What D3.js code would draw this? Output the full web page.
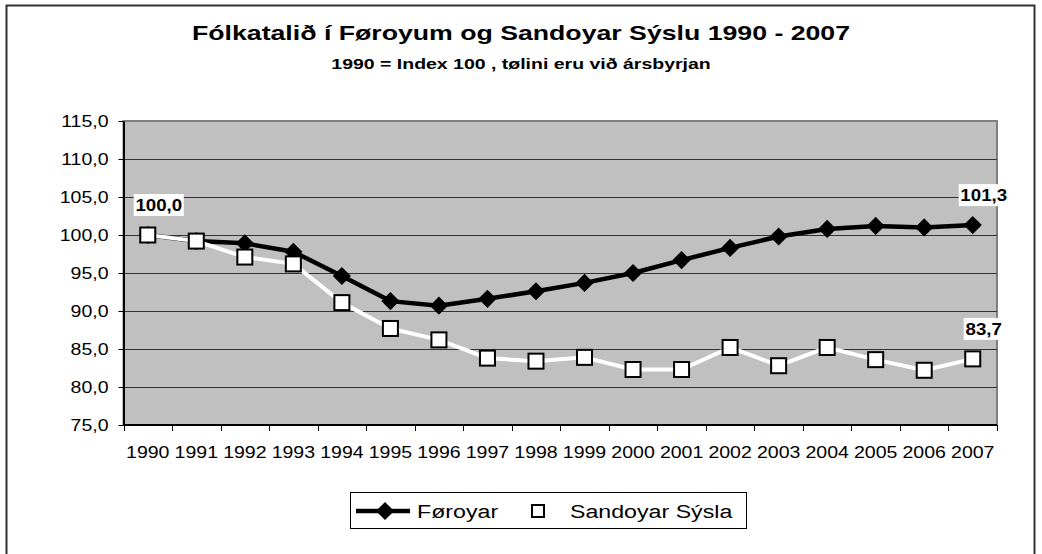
<!DOCTYPE html>
<html>
<head>
<meta charset="utf-8">
<script src="https://cdn.jsdelivr.net/npm/d3@7"></script>
<style>
  body { margin: 0; background: #fff; }
  svg { display: block; font-family: "Liberation Sans", Arial, sans-serif; }
</style>
</head>
<body>
<div class="chart"></div>
<script>
// data
var years = ["1990", "1991", "1992", "1993", "1994", "1995", "1996", "1997", "1998",
    "1999", "2000", "2001", "2002", "2003", "2004", "2005", "2006", "2007"];
var foroyar = [100.0, 99.2, 98.9, 97.8, 94.6, 91.3, 90.7, 91.6, 92.6,
    93.7, 95.0, 96.7, 98.3, 99.8, 100.8, 101.2, 101.0, 101.3];
var sandoy = [100.0, 99.2, 97.1, 96.2, 91.1, 87.7, 86.2, 83.8, 83.4,
    83.9, 82.3, 82.3, 85.2, 82.8, 85.2, 83.6, 82.2, 83.7];
var yTicks = [75, 80, 85, 90, 95, 100, 105, 110, 115];
var seriesNames = ["Føroyar", "Sandoyar Sýsla"];
var labelled = [{ series: 0, index: 0 }, { series: 0, index: 17 }, { series: 1, index: 17 }];

var width = 1042,
    height = 554,
    plot = { left: 123.5, top: 121, right: 997, bottom: 425 },
    sx = 1.22; // horizontal stretch of the lettering

function fmt(v) {
    return v.toFixed(1).replace(".", ",");
}

var svg = d3.select(".chart")
    .append("svg")
    .attr("width", width)
    .attr("height", height);

// outer frame
svg.append("rect")
    .attr("x", 6.5).attr("y", 5.5)
    .attr("width", 1028).attr("height", 600)
    .attr("fill", "#fff")
    .attr("stroke", "#333")
    .attr("stroke-width", 2);

var x = d3.scaleBand()
    .domain(years)
    .range([plot.left, plot.right]);

var y = d3.scaleLinear()
    .domain([75, 115])
    .range([plot.bottom, plot.top]);

function stretchedText(sel, tx, ty, s) {
    return sel.append("text")
        .attr("transform", "translate(" + tx + "," + ty + ") scale(" + (s || sx) + ",1)");
}

// titles
stretchedText(svg, width / 2, 40, 1.27)
    .attr("text-anchor", "middle")
    .style("font-size", "21px")
    .style("font-weight", "bold")
    .text("Fólkatalið í Føroyum og Sandoyar Sýslu 1990 - 2007");

stretchedText(svg, width / 2, 69, 1.3)
    .attr("text-anchor", "middle")
    .style("font-size", "15px")
    .style("font-weight", "bold")
    .text("1990 = Index 100 , tølini eru við ársbyrjan");

// plot area
svg.append("rect")
    .attr("x", plot.left).attr("y", plot.top)
    .attr("width", plot.right - plot.left)
    .attr("height", plot.bottom - plot.top)
    .attr("fill", "#c0c0c0")
    .attr("stroke", "#808080")
    .attr("stroke-width", 2);

// grid
svg.append("g")
    .selectAll("line")
    .data(yTicks.slice(1, -1))
    .enter().append("line")
    .attr("x1", plot.left).attr("x2", plot.right)
    .attr("y1", function (d) { return Math.round(y(d)) + 0.5; })
    .attr("y2", function (d) { return Math.round(y(d)) + 0.5; })
    .attr("stroke", "#333")
    .attr("stroke-width", 1);

// y axis
var yAxis = svg.append("g")
    .attr("transform", "translate(" + plot.left + ",0)")
    .call(d3.axisLeft(y).tickValues(yTicks).tickSize(5).tickSizeOuter(0).tickFormat(fmt));
yAxis.select(".domain").attr("stroke", "#000").attr("stroke-width", 2);
yAxis.selectAll(".tick line").attr("stroke", "#000");
yAxis.selectAll(".tick text")
    .attr("x", null).attr("dy", null)
    .attr("transform", "translate(-15,5.5) scale(" + sx + ",1)")
    .style("font-size", "16px")
    .attr("fill", "#000");

// x axis: ticks between categories
var xAxisG = svg.append("g")
    .attr("transform", "translate(0," + plot.bottom + ")");
xAxisG.append("line")
    .attr("x1", plot.left).attr("x2", plot.right)
    .attr("stroke", "#000").attr("stroke-width", 2);
xAxisG.selectAll(".xt")
    .data(years.concat(["end"]))
    .enter().append("line")
    .attr("class", "xt")
    .attr("x1", function (d, i) { return Math.round(plot.left + i * x.bandwidth()) + 0.5; })
    .attr("x2", function (d, i) { return Math.round(plot.left + i * x.bandwidth()) + 0.5; })
    .attr("y1", 0).attr("y2", 6)
    .attr("stroke", "#000");
xAxisG.selectAll(".xl")
    .data(years)
    .enter().append("text")
    .attr("class", "xl")
    .attr("transform", function (d) {
        return "translate(" + (x(d) + x.bandwidth() / 2) + ",33) scale(" + sx + ",1)";
    })
    .attr("text-anchor", "middle")
    .style("font-size", "16px")
    .text(function (d) { return d; });

function cx(i) {
    return x(years[i]) + x.bandwidth() / 2;
}

var line = d3.line()
    .x(function (d, i) { return cx(i); })
    .y(function (d) { return y(d); });

// Føroyar
svg.append("path")
    .datum(foroyar)
    .attr("d", line)
    .attr("fill", "none")
    .attr("stroke", "#000")
    .attr("stroke-width", 4.5)
    .attr("stroke-linejoin", "round");

var diamond = d3.symbol().type(d3.symbolDiamond2).size(210);
svg.append("g")
    .selectAll("path")
    .data(foroyar)
    .enter().append("path")
    .attr("d", diamond)
    .attr("transform", function (d, i) { return "translate(" + cx(i) + "," + y(d) + ")"; })
    .attr("fill", "#000");

// Sandoyar Sýsla
svg.append("path")
    .datum(sandoy)
    .attr("d", line)
    .attr("fill", "none")
    .attr("stroke", "#fff")
    .attr("stroke-width", 4)
    .attr("stroke-linejoin", "round");

svg.append("g")
    .selectAll("rect")
    .data(sandoy)
    .enter().append("rect")
    .attr("x", function (d, i) { return cx(i) - 7.5; })
    .attr("y", function (d) { return y(d) - 7.5; })
    .attr("width", 15).attr("height", 15)
    .attr("fill", "#fff")
    .attr("stroke", "#000")
    .attr("stroke-width", 2);

// data labels
var allSeries = [foroyar, sandoy];
var lab = svg.append("g")
    .selectAll("g")
    .data(labelled)
    .enter().append("g")
    .attr("transform", function (d) {
        return "translate(" + (cx(d.index) + 11) + "," + (y(allSeries[d.series][d.index]) - 24) + ")";
    });
lab.append("rect")
    .attr("x", function (d) { return d.series === 1 ? -20 : -25; })
    .attr("y", -17)
    .attr("width", function (d) { return d.series === 1 ? 40 : 50; })
    .attr("height", 22)
    .attr("fill", "#fff");
lab.append("text")
    .attr("transform", "scale(1.1,1)")
    .attr("text-anchor", "middle")
    .style("font-size", "17px")
    .style("font-weight", "bold")
    .text(function (d) { return fmt(allSeries[d.series][d.index]); });

// legend
var legend = svg.append("g");
legend.append("rect")
    .attr("x", 350.5).attr("y", 492.5)
    .attr("width", 396).attr("height", 36)
    .attr("fill", "#fff")
    .attr("stroke", "#000");
legend.append("line")
    .attr("x1", 356).attr("x2", 410)
    .attr("y1", 511).attr("y2", 511)
    .attr("stroke", "#000").attr("stroke-width", 4.5);
legend.append("path")
    .attr("d", diamond)
    .attr("transform", "translate(385,511)")
    .attr("fill", "#000");
stretchedText(legend, 417, 518)
    .style("font-size", "19px")
    .text(seriesNames[0]);
legend.append("rect")
    .attr("x", 532).attr("y", 505)
    .attr("width", 12).attr("height", 12)
    .attr("fill", "#fff")
    .attr("stroke", "#000")
    .attr("stroke-width", 2);
stretchedText(legend, 570, 518)
    .style("font-size", "19px")
    .text(seriesNames[1]);
</script>
</body>
</html>
